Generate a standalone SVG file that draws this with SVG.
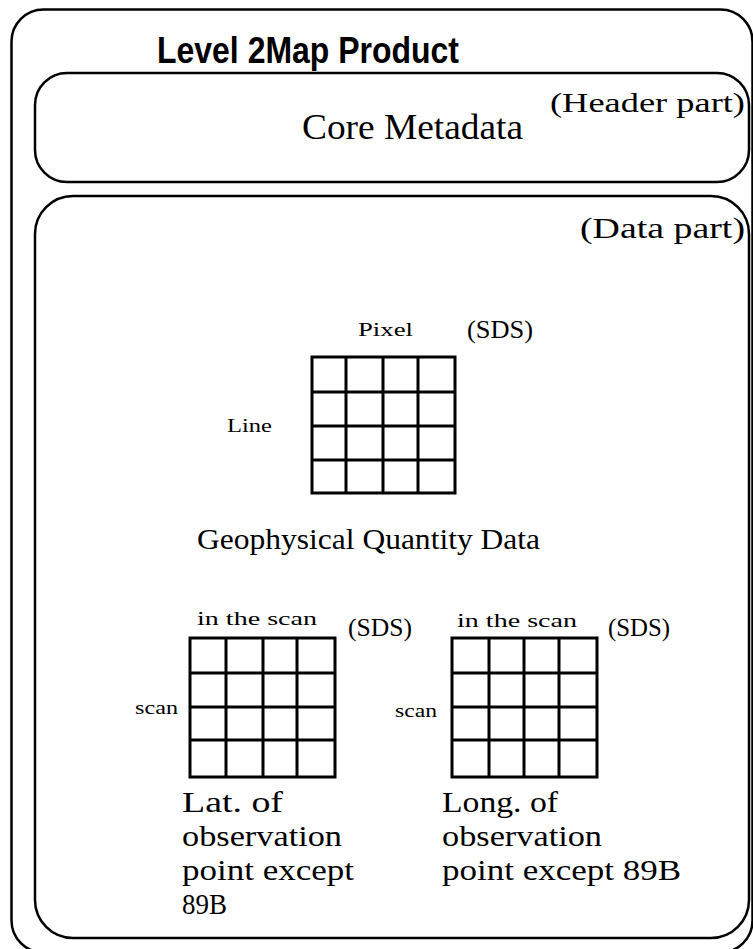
<svg xmlns="http://www.w3.org/2000/svg" width="753" height="949" viewBox="0 0 753 949">
<style>
.box{fill:none;stroke:#000;stroke-width:2.5}
.grid{fill:none;stroke:#000;stroke-width:3}
.t{font-family:"Liberation Serif","Times New Roman",serif;fill:#000}
.title{font-family:"Liberation Sans",Arial,sans-serif;font-weight:bold;fill:#000}
</style>
<rect width="753" height="949" fill="#fff"/>
<g id="outer">
<rect class="box" x="11.5" y="9.5" width="741" height="943" rx="32" ry="32"/>
<text class="title" x="157" y="63" font-size="36" textLength="302" lengthAdjust="spacingAndGlyphs">Level 2Map Product</text>
</g>
<g id="header">
<rect class="box" x="35" y="73" width="714" height="109" rx="32" ry="32"/>
<text class="t" x="550" y="112" font-size="27" textLength="195" lengthAdjust="spacingAndGlyphs">(Header part)</text>
<text class="t" x="302" y="139" font-size="36" textLength="221" lengthAdjust="spacingAndGlyphs">Core Metadata</text>
</g>
<g id="data">
<rect class="box" x="35" y="196" width="714" height="742" rx="38" ry="38"/>
<text class="t" x="580" y="238" font-size="30" textLength="165" lengthAdjust="spacingAndGlyphs">(Data part)</text>
</g>
<g id="geo">
<text class="t" x="358" y="336" font-size="18" textLength="55" lengthAdjust="spacingAndGlyphs">Pixel</text>
<text class="t" x="467" y="338" font-size="25" textLength="66" lengthAdjust="spacingAndGlyphs">(SDS)</text>
<text class="t" x="227" y="432" font-size="18" textLength="45" lengthAdjust="spacingAndGlyphs">Line</text>
<g class="grid">
<rect x="312" y="357" width="143" height="136"/>
<path d="M346 357V493M383 357V493M418 357V493M312 392H455M312 426H455M312 460H455"/>
</g>
<text class="t" x="197" y="549" font-size="29" textLength="343" lengthAdjust="spacingAndGlyphs">Geophysical Quantity Data</text>
</g>
<g id="lat">
<text class="t" x="197" y="625" font-size="18" textLength="120" lengthAdjust="spacingAndGlyphs">in the scan</text>
<text class="t" x="348" y="636" font-size="26" textLength="64" lengthAdjust="spacingAndGlyphs">(SDS)</text>
<text class="t" x="135" y="714" font-size="18" textLength="43" lengthAdjust="spacingAndGlyphs">scan</text>
<g class="grid">
<rect x="190" y="638" width="145" height="139"/>
<path d="M226 638V777M263 638V777M297 638V777M190 673H335M190 707H335M190 740H335"/>
</g>
<text class="t" x="182" y="812" font-size="29" textLength="101" lengthAdjust="spacingAndGlyphs">Lat. of</text>
<text class="t" x="182" y="846" font-size="29" textLength="160" lengthAdjust="spacingAndGlyphs">observation</text>
<text class="t" x="182" y="880" font-size="29" textLength="172" lengthAdjust="spacingAndGlyphs">point except</text>
<text class="t" x="182" y="914" font-size="30" textLength="45" lengthAdjust="spacingAndGlyphs">89B</text>
</g>
<g id="long">
<text class="t" x="457" y="627" font-size="18" textLength="120" lengthAdjust="spacingAndGlyphs">in the scan</text>
<text class="t" x="608" y="636" font-size="26" textLength="62" lengthAdjust="spacingAndGlyphs">(SDS)</text>
<text class="t" x="395" y="717" font-size="18" textLength="42" lengthAdjust="spacingAndGlyphs">scan</text>
<g class="grid">
<rect x="452" y="638" width="145" height="139"/>
<path d="M489 638V777M524 638V777M559 638V777M452 673H597M452 707H597M452 740H597"/>
</g>
<text class="t" x="442" y="812" font-size="29" textLength="116" lengthAdjust="spacingAndGlyphs">Long. of</text>
<text class="t" x="442" y="846" font-size="29" textLength="160" lengthAdjust="spacingAndGlyphs">observation</text>
<text class="t" x="442" y="880" font-size="29" textLength="239" lengthAdjust="spacingAndGlyphs">point except 89B</text>
</g>
<g id="connectors"/>
</svg>
